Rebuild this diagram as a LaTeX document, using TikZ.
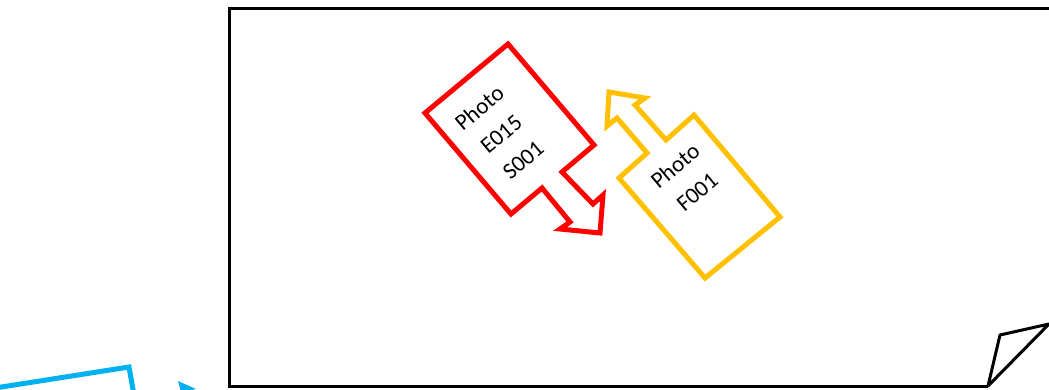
\documentclass[tikz,border=0pt]{standalone}
\usepackage{fontspec}
\setmainfont{Carlito}
\definecolor{redc}{HTML}{FF0000}
\definecolor{yelc}{HTML}{FFC000}
\definecolor{bluec}{HTML}{00B0F0}
\tikzset{
  pageline/.style={draw=black, line width=3pt},
  redcallout/.style={draw=redc, line width=5pt, fill=white},
  yelcallout/.style={draw=yelc, line width=5pt, fill=white},
  bluepart/.style={draw=bluec, line width=5pt},
  lbl/.style={align=center, rotate=40, text=black, font=\fontsize{23}{34}\selectfont, inner sep=0pt}
}
\begin{document}
\begin{tikzpicture}[x=1pt, y=-1pt]
\useasboundingbox (0,0) rectangle (1049,389);
\begin{scope}
\clip (0,0) rectangle (1049,389);
% page with curled corner
\draw[pageline, line join=miter] (1070,8) -- (229,8) -- (229,386) -- (988,386);
\draw[pageline, line join=round] (988,386) -- (1000,335) -- (1049,324) -- cycle;
% blue partial shapes
\draw[bluepart, line join=miter] (-5,388) -- (129,367) -- (134,395);
\fill[bluec] (178,381) -- (196,389) -- (181,392) -- cycle;
% red callout
\draw[redcallout] (508,44) -- (425,113) -- (511,214) -- (542,188) -- (570,222)
  -- (560,229) -- (600,233) -- (603,195) -- (593,204) -- (562,172) -- (594,145) -- cycle;
% yellow callout
\draw[yelcallout] (609,92) -- (645,98) -- (635,105) -- (666,140) -- (694,115)
  -- (780,217) -- (705,278) -- (619,178) -- (647,153) -- (617,118) -- (607,126) -- cycle;
\end{scope}
\node[lbl] (redtext) at (501,134) {Photo\\E015\\S001};
\node[lbl] (yeltext) at (686,179) {Photo\\F001};
\end{tikzpicture}
\end{document}
